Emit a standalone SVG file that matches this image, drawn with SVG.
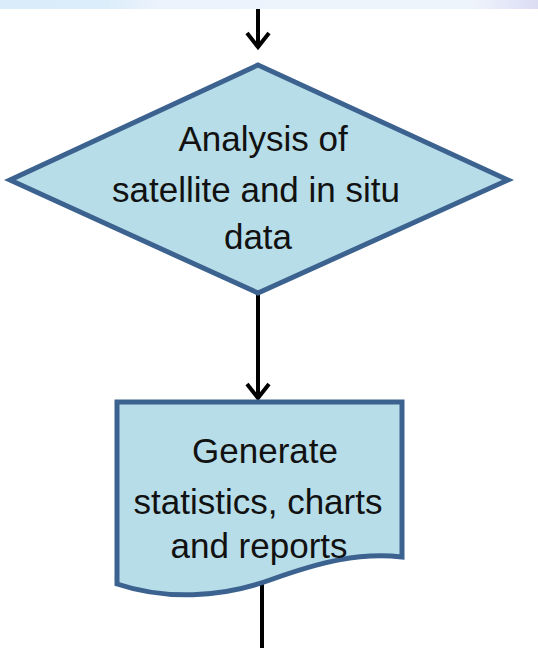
<svg xmlns="http://www.w3.org/2000/svg" width="538" height="648" viewBox="0 0 538 648">
<style>
.shape{fill:#b7dde8;stroke:#3c6390;stroke-width:5;stroke-linejoin:miter}
.lbl{font-family:"Liberation Sans",Arial,sans-serif;font-size:35px;fill:#111;text-anchor:middle}
.conn{stroke:#000;stroke-width:4;fill:none}
</style>
<defs>
<linearGradient id="band" x1="0" y1="0" x2="1" y2="0">
<stop offset="0" stop-color="#d9ecfa"/>
<stop offset="0.2" stop-color="#dcedfa"/>
<stop offset="0.3" stop-color="#edf3fc"/>
<stop offset="0.88" stop-color="#eef4fc"/>
<stop offset="1" stop-color="#dcdcf4"/>
</linearGradient>
<marker id="arr" viewBox="-20 -14 22 28" refX="0" refY="0" markerWidth="22" markerHeight="28" markerUnits="userSpaceOnUse" orient="auto">
<path d="M-15,-11 L-1,0 L-15,11" fill="none" stroke="#000" stroke-width="4" stroke-linejoin="miter"/>
</marker>
</defs>
<rect x="0" y="0" width="538" height="9" fill="url(#band)"/>
<g id="connectors">
<line class="conn" x1="258" y1="9" x2="258" y2="48" marker-end="url(#arr)"/>
<line class="conn" x1="258" y1="295" x2="258" y2="399" marker-end="url(#arr)"/>
<line class="conn" x1="262" y1="584" x2="262" y2="648"/>
</g>
<g id="analysis">
<polygon class="shape" points="258,65 508,180 258,293 10,180"/>
<text class="lbl" x="263" y="151">Analysis of</text>
<text class="lbl" x="256" y="202">satellite and in situ</text>
<text class="lbl" x="258" y="249">data</text>
</g>
<g id="generate">
<path class="shape" d="M117,402 L402,402 L402,557 C360,552 320,562 270,580 C220,598 165,600 117,584 Z"/>
<text class="lbl" x="265" y="463">Generate</text>
<text class="lbl" x="258" y="514">statistics, charts</text>
<text class="lbl" x="259" y="558">and reports</text>
</g>
</svg>
